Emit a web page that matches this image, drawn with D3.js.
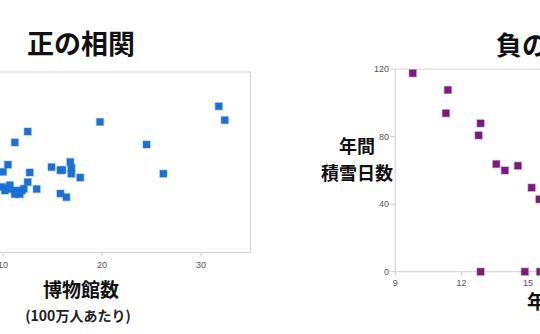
<!DOCTYPE html>
<html><head><meta charset="utf-8">
<script src="https://cdn.jsdelivr.net/npm/d3@7"></script>
<style>body{margin:0;background:#fff}svg{display:block}</style>
</head><body>
<script>
// Left chart: museums per 1M people (x) vs. some positive-correlated value (y)
const posX = [31.8,32.4,24.5,26.2,19.8,12.5,11.2,10.5,10.0,12.7,14.9,15.8,16.0,16.8,16.9,16.9,17.8,12.5,13.4,15.8,16.4,
              9.9,10.4,10.2,10.7,11.2,11.5,11.9,12.1,11.7,10.5,11.2];
const posY = [24.3,22.0,17.95,13.1,21.7,20.1,18.3,14.6,13.4,13.3,14.2,13.7,13.7,15.05,14.1,13.1,12.45,11.7,10.55,9.8,9.2,
              10.9,10.6,10.3,11.2,10.3,10.05,10.3,10.6,9.7,10.6,9.7];
const posTicks = [10,20,30];
// Right chart: annual snow days (y) vs. annual temperature (x)
const negX = [9.79,11.38,11.29,12.86,12.77,13.57,13.96,14.55,15.17,15.52,12.86,14.86,15.55];
const negY = [117.6,107.7,93.9,87.9,80.8,63.8,60.0,62.8,49.8,42.9,0,0,0];
const negXTicks = [9,12,15];
const negYTicks = [0,40,80,120];

const W=540,H=334;
const svg=d3.select("body").append("svg").attr("width",W).attr("height",H);
const jp='"Noto Sans CJK JP","Noto Sans",sans-serif';
const tickFont='"Liberation Sans",Arial,sans-serif';

// ---------- Left ----------
const xL=d3.scaleLinear().domain([0,35]).range([-96,250.5]);
const yL=d3.scaleLinear().domain([0,30]).range([252.5,72]);
svg.append("rect").attr("x",xL(0)).attr("y",yL(30)).attr("width",xL(35)-xL(0)).attr("height",yL(0)-yL(30))
  .attr("fill","none").attr("stroke","#d6d6d6").attr("stroke-width",1);
const gL=svg.append("g");
posTicks.forEach(t=>{
  gL.append("line").attr("x1",xL(t)).attr("x2",xL(t)).attr("y1",yL(0)).attr("y2",yL(0)+4).attr("stroke","#cfcfcf");
  gL.append("text").attr("x",xL(t)).attr("y",268).attr("text-anchor","middle").attr("font-family",tickFont)
    .attr("font-size",9).attr("fill","#555").text(t);
});
svg.append("g").selectAll("rect").data(posX.map((x,i)=>[x,posY[i]])).join("rect")
  .attr("x",d=>xL(d[0])-3.5).attr("y",d=>yL(d[1])-3.5).attr("width",7).attr("height",7)
  .attr("fill","#1a70d6").attr("stroke","#1a70d6").attr("stroke-opacity",0.3).attr("stroke-width",1.5);
svg.append("text").attr("x",81).attr("y",54).attr("text-anchor","middle").attr("font-family",jp)
  .attr("font-weight","bold").attr("font-size",27).attr("fill","#111").text("正の相関");
svg.append("text").attr("x",81).attr("y",297).attr("text-anchor","middle").attr("font-family",jp)
  .attr("font-weight","bold").attr("font-size",19).attr("fill","#111").text("博物館数");
svg.append("text").attr("x",78).attr("y",321).attr("text-anchor","middle").attr("font-family",jp)
  .attr("font-weight","bold").attr("font-size",14).attr("fill","#222").text("(100万人あたり)");

// ---------- Right ----------
const xR=d3.scaleLinear().domain([9,21]).range([395.3,660.5]);
const yR=d3.scaleLinear().domain([0,120]).range([271.7,69.2]);
const gR=svg.append("g");
gR.append("line").attr("x1",xR(9)).attr("x2",W).attr("y1",yR(120)).attr("y2",yR(120)).attr("stroke","#d6d6d6");
gR.append("line").attr("x1",xR(9)).attr("x2",W).attr("y1",yR(0)).attr("y2",yR(0)).attr("stroke","#d0d0d0");
gR.append("line").attr("x1",xR(9)).attr("x2",xR(9)).attr("y1",yR(120)).attr("y2",yR(0)).attr("stroke","#d0d0d0");
negYTicks.forEach(t=>{
  gR.append("line").attr("x1",xR(9)-5).attr("x2",xR(9)).attr("y1",yR(t)).attr("y2",yR(t)).attr("stroke","#cfcfcf");
  gR.append("text").attr("x",389).attr("y",yR(t)+3).attr("text-anchor","end").attr("font-family",tickFont)
    .attr("font-size",9).attr("fill","#555").text(t);
});
negXTicks.forEach(t=>{
  gR.append("line").attr("x1",xR(t)).attr("x2",xR(t)).attr("y1",yR(0)).attr("y2",yR(0)+4).attr("stroke","#cfcfcf");
  gR.append("text").attr("x",xR(t)).attr("y",285.5).attr("text-anchor","middle").attr("font-family",tickFont)
    .attr("font-size",9).attr("fill","#555").text(t);
});
svg.append("g").selectAll("rect").data(negX.map((x,i)=>[x,negY[i]])).join("rect")
  .attr("x",d=>xR(d[0])-3.5).attr("y",d=>yR(d[1])-3.5).attr("width",7).attr("height",7)
  .attr("fill","#7a1a7c").attr("stroke","#7a1a7c").attr("stroke-opacity",0.3).attr("stroke-width",1.5);
svg.append("text").attr("x",496).attr("y",55).attr("text-anchor","start").attr("font-family",jp)
  .attr("font-weight","bold").attr("font-size",26).attr("fill","#111").text("負の相関");
svg.append("text").attr("x",357).attr("y",153).attr("text-anchor","middle").attr("font-family",jp)
  .attr("font-weight","bold").attr("font-size",18).attr("fill","#111").text("年間");
svg.append("text").attr("x",357).attr("y",180).attr("text-anchor","middle").attr("font-family",jp)
  .attr("font-weight","bold").attr("font-size",18).attr("fill","#111").text("積雪日数");
svg.append("text").attr("x",527).attr("y",309).attr("text-anchor","start").attr("font-family",jp)
  .attr("font-weight","bold").attr("font-size",19).attr("fill","#111").text("年平均気温");
</script>
</body></html>
